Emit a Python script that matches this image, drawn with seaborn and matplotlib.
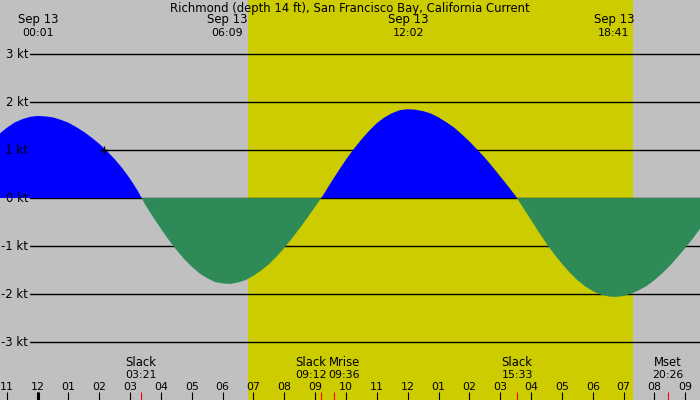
import numpy as np
import pandas as pd
import matplotlib
matplotlib.use("Agg")
import matplotlib.pyplot as plt
import matplotlib.transforms as mtransforms
import seaborn as sns

# ---------------- data ----------------
title = "Richmond (depth 14 ft), San Francisco Bay, California Current"

# hours after midnight Sep 13 (quarter-hour readings) and current speed (kt)
time_h = np.arange(-1.5, 21.75, 0.25)
speed_kt = [1.17, 1.33, 1.46, 1.57, 1.64, 1.69, 1.71, 1.70, 1.68, 1.63,
            1.57, 1.48, 1.38, 1.26, 1.13, 0.98, 0.81, 0.62, 0.40, 0.15,
            -0.15, -0.40, -0.64, -0.87, -1.08, -1.27, -1.43, -1.57, -1.67, -1.75,
            -1.78, -1.79, -1.76, -1.71, -1.62, -1.51, -1.38, -1.22, -1.04, -0.84,
            -0.63, -0.41, -0.18, 0.05, 0.31, 0.56, 0.80, 1.02, 1.22, 1.40,
            1.56, 1.68, 1.77, 1.83, 1.85, 1.84, 1.81, 1.76, 1.68, 1.58,
            1.47, 1.33, 1.18, 1.01, 0.84, 0.65, 0.45, 0.25, 0.04, -0.21,
            -0.46, -0.71, -0.95, -1.17, -1.37, -1.55, -1.71, -1.84, -1.94, -2.01,
            -2.05, -2.06, -2.04, -1.99, -1.92, -1.83, -1.71, -1.57, -1.41, -1.23,
            -1.04, -0.84, -0.62]

extreme_h = [0.02, 6.15, 12.03, 18.68]
extreme_date = ["Sep 13", "Sep 13", "Sep 13", "Sep 13"]
extreme_time = ["00:01", "06:09", "12:02", "18:41"]

event_h = [3.35, 9.20, 9.60, 15.55, 20.43]
event_name = ["Slack", "Slack", "Mrise", "Slack", "Mset"]
event_time = ["03:21", "09:12", "09:36", "15:33", "20:26"]
event_label_h = [3.35, 8.87, 9.94, 15.55, 20.43]

daylight_h = [6.82, 19.30]

hour_ticks = list(range(-1, 22))
hour_labels = ["11", "12", "01", "02", "03", "04", "05", "06", "07", "08", "09",
               "10", "11", "12", "01", "02", "03", "04", "05", "06", "07", "08", "09"]
midnight_h = [0]

ytick_vals = [3, 2, 1, 0, -1, -2, -3]
ytick_labels = ["3 kt", "2 kt", "1 kt", "0 kt", "-1 kt", "-2 kt", "-3 kt"]

now_h = [2.16]
now_kt = [1.0]

# ---------------- style ----------------
sns.set_style("white")
plt.rcParams['font.family'] = ['DejaVu Sans']
plt.rcParams['text.color'] = 'black'
FS = 8.4
FS_NUM = 7.9
BG = '#c0c0c0'
DAY = '#cccc00'
FLOOD = '#0000ff'
EBB = '#2e8b57'

fig = plt.figure(figsize=(7, 4), dpi=100, facecolor=BG)
ax = fig.add_axes([0, 0, 1, 1])
ax.set_facecolor(BG)
ax.set_xlim(-1.216, 21.475)
ax.set_ylim(-4.208, 4.125)
for s in ax.spines.values():
    s.set_visible(False)

# daylight
ax.axvspan(daylight_h[0], daylight_h[1], color=DAY, lw=0, zorder=0.5)

# horizontal grid lines and labels
ylab_trans = mtransforms.offset_copy(
    mtransforms.blended_transform_factory(ax.transAxes, ax.transData),
    fig=fig, y=-4.3, units='dots')
for yv, yl in zip(ytick_vals, ytick_labels):
    ax.axhline(yv, xmin=30 / 700, xmax=1, color='black', lw=1.0, zorder=1)
    ax.text(28 / 700, yv, yl, transform=ylab_trans, ha='right', va='baseline',
            fontsize=FS, color='black', zorder=5)

# current curve
df = pd.DataFrame({'h': time_h, 'kt': speed_kt})
sns.lineplot(data=df, x='h', y='kt', ax=ax, color=EBB, lw=0.0, zorder=3)
ax.fill_between(df['h'], df['kt'], 0, where=df['kt'] >= 0, interpolate=True,
                color=FLOOD, lw=0, zorder=2)
ax.fill_between(df['h'], df['kt'], 0, where=df['kt'] <= 0, interpolate=True,
                color=EBB, lw=0, zorder=2)
ax.set_xlabel('')
ax.set_ylabel('')
ax.set_xticks([])
ax.set_yticks([])

# now marker
ax.plot(now_h, now_kt, marker='+', ms=6.0, mew=1.0, color='black', ls='none', zorder=4)

xt = ax.get_xaxis_transform()

# title and extreme labels
ax.text(0.5, 1 - 12 / 400, title, transform=ax.transAxes, ha='center', va='baseline',
        fontsize=FS, color='black', zorder=5)
for h, d, t in zip(extreme_h, extreme_date, extreme_time):
    ax.text(h, 1 - 23.5 / 400, d, transform=xt, ha='center', va='baseline',
            fontsize=FS, color='black', zorder=5)
    ax.text(h, 1 - 36 / 400, t, transform=xt, ha='center', va='baseline',
            fontsize=FS_NUM, color='black', zorder=5)

# events at bottom
for h, n, t in zip(event_label_h, event_name, event_time):
    ax.text(h, 1 - 366 / 400, n, transform=xt, ha='center', va='baseline',
            fontsize=FS, color='black', zorder=5)
    ax.text(h, 1 - 377.5 / 400, t, transform=xt, ha='center', va='baseline',
            fontsize=FS_NUM, color='black', zorder=5)

# hour ticks + labels
ax.vlines(hour_ticks, 0, 8.5 / 400, transform=xt, color='black', lw=0.8, zorder=5)
ax.vlines(midnight_h, 0, 8.5 / 400, transform=xt, color='black', lw=2.2, zorder=5)
ax.vlines(event_h, 0, 8.5 / 400, transform=xt, color='red', lw=0.8, zorder=5)
for h, l in zip(hour_ticks, hour_labels):
    ax.text(h, 1 - 390 / 400, l, transform=xt, ha='center', va='baseline',
            fontsize=FS_NUM, color='black', zorder=5)

fig.savefig("out.png", dpi=100, facecolor=BG)
